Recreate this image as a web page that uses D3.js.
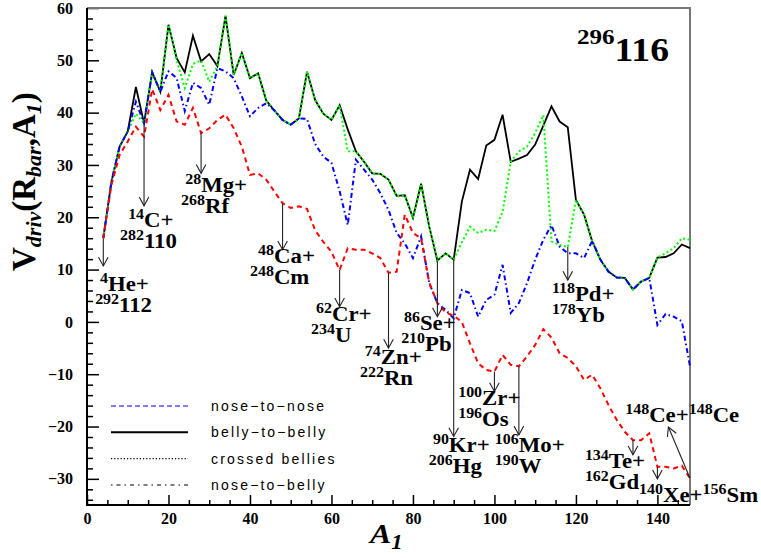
<!DOCTYPE html>
<html>
<head>
<meta charset="utf-8">
<script src="https://cdn.jsdelivr.net/npm/d3@7"></script>
<style>
  body { margin: 0; background: #fff; }
  svg { display: block; }
  .axis text { font-family: "Liberation Serif", serif; font-weight: bold; font-size: 16px; fill: #000; }
  .axis line { stroke: #000; stroke-width: 1.5px; }
  .axis path { display: none; }
  .ann text { font-family: "Liberation Serif", serif; font-weight: bold; fill: #000; }
  .ann line, .ann path { stroke: #222; stroke-width: 1.1px; fill: none; }
  .legend text { font-family: "Liberation Sans", sans-serif; font-size: 14px; letter-spacing: 2.2px; fill: #000; }
</style>
</head>
<body>
<script>
// fragment mass number A1 (x axis)
const massA = [4, 6, 8, 10, 12, 14, 16, 18, 20, 22, 24, 26, 28, 30, 32, 34, 36, 38, 40, 42,
  44, 46, 48, 50, 52, 54, 56, 58, 60, 62, 64, 66, 68, 70, 72, 74, 76, 78, 80, 82,
  84, 86, 88, 90, 92, 94, 96, 98, 100, 102, 104, 106, 108, 110, 112, 114, 116, 118, 120, 122,
  124, 126, 128, 130, 132, 134, 136, 138, 140, 142, 144, 146, 148];

// driving potential, MeV
const bellyToBelly = [16.0, 26.8, 33.5, 36.4, 44.9, 38.0, 47.7, 44.0, 56.8, 50.4, 47.7, 54.7, 49.8, 51.2, 48.9, 58.5, 47.2, 51.4, 46.6, 47.5,
  42.3, 40.4, 38.6, 37.7, 38.9, 47.8, 42.4, 39.8, 38.6, 41.4, 36.8, 32.6, 30.6, 28.4, 28.3, 27.2, 24.1, 24.2, 19.9, 26.4,
  18.2, 11.7, 13.1, 11.9, 23.0, 29.1, 27.3, 33.7, 34.8, 39.6, 30.6, 31.2, 31.9, 33.9, 37.5, 41.2, 38.3, 37.2, 23.3, 20.5,
  15.4, 11.9, 9.6, 8.5, 8.4, 6.2, 7.7, 8.4, 12.3, 12.4, 13.1, 14.8, 14.1];

const crossedBellies = [16.0, 26.8, 33.5, 36.4, 39.8, 38.0, 47.7, 44.0, 56.8, 50.0, 44.7, 49.3, 50.0, 45.9, 48.9, 58.5, 47.2, 51.4, 46.6, 47.5,
  42.3, 40.4, 38.6, 37.7, 38.9, 47.8, 42.4, 39.8, 38.6, 41.4, 32.6, 32.6, 30.6, 28.4, 28.3, 27.2, 24.1, 24.2, 19.9, 26.4,
  18.2, 11.7, 13.1, 11.9, 15.2, 18.2, 17.0, 17.6, 17.4, 21.0, 30.6, 32.6, 33.5, 36.1, 39.5, 15.4, 14.7, 14.3, 23.3, 20.5,
  15.4, 11.9, 9.6, 8.5, 8.4, 6.2, 7.7, 8.4, 12.3, 13.1, 14.1, 16.0, 15.7];

const noseToBelly = [16.0, 26.8, 33.5, 36.4, 42.1, 38.0, 47.7, 44.0, 47.9, 46.6, 40.3, 45.7, 44.7, 41.5, 48.5, 47.9, 46.6, 43.1, 39.3, 40.9,
  41.8, 40.4, 38.6, 37.7, 38.9, 38.8, 34.0, 31.6, 30.4, 25.0, 18.5, 31.0, 29.1, 27.2, 24.6, 21.4, 17.0, 15.0, 12.2, 16.3,
  7.4, 3.6, 2.3, 0.7, 6.1, 5.5, 1.0, 4.2, 5.2, 10.9, 1.7, 3.6, 7.4, 11.9, 15.7, 18.5, 14.4, 13.1, 13.1, 12.2,
  15.5, 11.9, 9.6, 8.5, 8.4, 6.2, 7.7, 8.4, -0.6, 1.5, 1.0, 0.1, -8.5];

const noseToNose = [16.0, 26.2, 31.9, 34.5, 37.3, 35.4, 44.5, 40.5, 43.4, 38.3, 37.7, 40.9, 36.1, 37.0, 38.6, 39.6, 37.0, 33.5, 28.1, 28.4,
  27.2, 24.9, 22.7, 21.8, 22.1, 21.6, 17.5, 15.3, 13.4, 9.9, 14.1, 13.8, 13.8, 13.1, 12.2, 9.4, 9.6, 20.5, 17.0, 16.0,
  7.5, 3.6, 1.8, 1.2, 0.0, -4.1, -7.9, -9.2, -9.5, -6.3, -8.2, -8.5, -6.6, -4.4, -1.4, -3.0, -6.0, -6.9, -8.5, -11.1,
  -10.1, -12.7, -15.9, -18.7, -21.0, -22.6, -22.6, -21.3, -27.7, -27.7, -28.0, -27.5, -29.9];

const legendNames = ["nose\u2212to\u2212nose", "belly\u2212to\u2212belly", "crossed bellies", "nose\u2212to\u2212belly"];

// decay channels marked with arrows: [superscript, symbol] pairs for both lines
const channelLine1 = [[["4", "He+"]], [["14", "C+"]], [["28", "Mg+"]], [["48", "Ca+"]], [["62", "Cr+"]], [["74", "Zn+"]],
  [["86", "Se+"]], [["90", "Kr+"]], [["100", "Zr+"]], [["106", "Mo+"]], [["118", "Pd+"]], [["134", "Te+"]],
  [["140", "Xe+"], ["156", "Sm"]], [["148", "Ce+"], ["148", "Ce"]]];
const channelLine2 = [[["292", "112"]], [["282", "110"]], [["268", "Rf"]], [["248", "Cm"]], [["234", "U"]], [["222", "Rn"]],
  [["210", "Pb"]], [["206", "Hg"]], [["196", "Os"]], [["190", "W"]], [["178", "Yb"]], [["162", "Gd"]], [], []];
const channelA = [4, 14, 28, 48, 62, 74, 86, 90, 100, 106, 118, 134, 140, 148];
const channelCurve = ["b", "b", "r", "r", "r", "r", "b", "b", "r", "r", "g", "r", "r", "r"];

// arrow tips and label anchors, in data units
const tipA = [4, 14, 28, 48, 62, 74, 86, 90, 100, 106, 118, 134, 140, 142.7];
const tipV = [10.7, 22.2, 28.4, 13.8, 2.9, -5.0, 1.0, -21.9, -13.3, -21.6, 8.0, -25.4, -30.0, -20.1];
const label1A = [3.2, 10.1, 24.1, 42.0, 56.2, 68.2, 77.8, 84.9, 91.1, 100.1, 114.1, 122.2, 135.5, 132.1];
const label2A = [2.0, 8.1, 23.1, 40.0, 55.0, 67.0, 77.1, 83.9, 91.1, 100.1, 114.1, 122.2, 0, 0];
const labelV = [5.9, 18.2, 24.9, 11.3, 0.1, -8.0, -1.5, -24.9, -15.9, -24.8, 3.9, -27.9, -34.4, -19.1];

const width = 761, height = 558;
const stretch = 1.14; // labels in the picture are a little wider than tall

const x = d3.scaleLinear().domain([0, 148]).range([87, 690]);
const y = d3.scaleLinear().domain([-35, 60]).range([505, 8]);

const svg = d3.select('body').append('svg')
  .attr('width', width)
  .attr('height', height);

// ---- axes ----
const yMajor = d3.range(-30, 61, 10);
const yMinor = d3.range(-34, 60, 2).filter(v => v % 10 !== 0);
const xMajor = d3.range(0, 141, 20);
const xMinor = d3.range(5, 148, 5).filter(v => v % 20 !== 0);

svg.append('g').attr('class', 'axis')
  .attr('transform', `translate(${x(0)},0)`)
  .call(d3.axisLeft(y).tickValues(yMajor).tickSizeInner(-12).tickSizeOuter(0).tickPadding(14).tickFormat(d3.format('d')));
svg.append('g').attr('class', 'axis')
  .attr('transform', `translate(${x(0)},0)`)
  .call(d3.axisLeft(y).tickValues(yMinor).tickSizeInner(-6).tickSizeOuter(0).tickFormat(''));
svg.append('g').attr('class', 'axis')
  .attr('transform', `translate(0,${y(-35)})`)
  .call(d3.axisBottom(x).tickValues(xMajor).tickSizeInner(-10).tickSizeOuter(0).tickPadding(8).tickFormat(d3.format('d')));
svg.append('g').attr('class', 'axis')
  .attr('transform', `translate(0,${y(-35)})`)
  .call(d3.axisBottom(x).tickValues(xMinor).tickSizeInner(-5).tickSizeOuter(0).tickFormat(''));

// frame
svg.append('path')
  .attr('d', `M${x(0)},${y(60)}H${x(148)}V${y(-35)}`)
  .attr('fill', 'none').attr('stroke', '#777').attr('stroke-width', 2);
svg.append('path')
  .attr('d', `M${x(0)},${y(60)}V${y(-35)}H${x(148)}`)
  .attr('fill', 'none').attr('stroke', '#000').attr('stroke-width', 2);

// ---- curves ----
const line = d3.line().x((d, i) => x(massA[i])).y(d => y(d));

const curves = [
  { data: bellyToBelly, color: '#000', dash: null, w: 1.8 },
  { data: crossedBellies, color: '#00ff00', dash: '2,2.5', w: 2 },
  { data: noseToBelly, color: '#0000ff', dash: '5,3,1.5,3', w: 2 },
  { data: noseToNose, color: '#ff0000', dash: '5,4', w: 2 }
];

svg.append('g').selectAll('path')
  .data(curves)
  .join('path')
  .attr('d', c => line(c.data))
  .attr('fill', 'none')
  .attr('stroke', c => c.color)
  .attr('stroke-width', c => c.w)
  .attr('stroke-dasharray', c => c.dash);

// ---- annotations ----
const seriesByKey = { b: bellyToBelly, g: crossedBellies, r: noseToNose };
const ann = svg.append('g').attr('class', 'ann');

function arrow(x1, y1, x2, y2) {
  ann.append('line').attr('x1', x1).attr('y1', y1).attr('x2', x2).attr('y2', y2);
  const ang = Math.atan2(y2 - y1, x2 - x1), len = 10, spread = 0.5;
  const p1 = [x2 - len * Math.cos(ang - spread), y2 - len * Math.sin(ang - spread)];
  const p2 = [x2 - len * Math.cos(ang + spread), y2 - len * Math.sin(ang + spread)];
  ann.append('path').attr('d', `M${p1}L${x2},${y2}L${p2}`);
}

function isotopeText(px, py, parts) {
  const t = ann.append('text').attr('transform', `translate(${px},${py}) scale(${stretch},1)`);
  parts.forEach(([sup, main]) => {
    t.append('tspan').attr('font-size', 14).attr('dy', -8).text(sup);
    t.append('tspan').attr('font-size', 20).attr('dy', 8).text(main);
  });
}

channelA.forEach((a, i) => {
  const v0 = seriesByKey[channelCurve[i]][massA.indexOf(a)];
  arrow(x(a), y(v0), x(tipA[i]), y(tipV[i]));
  isotopeText(x(label1A[i]), y(labelV[i]), channelLine1[i]);
  if (channelLine2[i].length) isotopeText(x(label2A[i]), y(labelV[i]) + 21, channelLine2[i]);
});

// nucleus label
const nuc = svg.append('text')
  .attr('transform', `translate(577,61) scale(${stretch},1)`)
  .style('font-family', '"Liberation Serif", serif').style('font-weight', 'bold');
nuc.append('tspan').attr('font-size', 22).attr('dy', -17).text('296');
nuc.append('tspan').attr('font-size', 33).attr('dy', 17).text('116');

// ---- axis titles ----
const yt = svg.append('text')
  .attr('transform', 'translate(35,271) rotate(-90)')
  .style('font-family', '"Liberation Serif", serif').style('font-weight', 'bold');
yt.append('tspan').attr('font-size', 33).text('V');
yt.append('tspan').attr('font-size', 22).attr('font-style', 'italic').attr('dy', 6).text('driv');
yt.append('tspan').attr('font-size', 33).attr('dy', -6).text('(R');
yt.append('tspan').attr('font-size', 22).attr('font-style', 'italic').attr('dy', 6).text('bar');
yt.append('tspan').attr('font-size', 33).attr('dy', -6).text(',A');
yt.append('tspan').attr('font-size', 22).attr('font-style', 'italic').attr('dy', 6).text('1');
yt.append('tspan').attr('font-size', 33).attr('dy', -6).text(')');

const xt = svg.append('text')
  .attr('transform', `translate(370,543) scale(${stretch},1)`)
  .style('font-family', '"Liberation Serif", serif').style('font-weight', 'bold').style('font-style', 'italic');
xt.append('tspan').attr('font-size', 28).text('A');
xt.append('tspan').attr('font-size', 20).attr('dy', 6).text('1');

// ---- legend ----
const legendStyles = [
  { color: '#0000ff', dash: '5,3', w: 1.2 },
  { color: '#000', dash: null, w: 2 },
  { color: '#000', dash: '1.2,2', w: 1.2 },
  { color: '#000', dash: '1.5,4,4,4', w: 1.2 }
];
const legendY = d3.scalePoint().domain(legendNames).range([406, 485]);
const leg = svg.append('g').attr('class', 'legend');
legendNames.forEach((name, i) => {
  const s = legendStyles[i];
  leg.append('line')
    .attr('x1', 111).attr('x2', 188)
    .attr('y1', legendY(name)).attr('y2', legendY(name))
    .attr('stroke', s.color).attr('stroke-width', s.w)
    .attr('stroke-dasharray', s.dash);
  leg.append('text').attr('x', 211).attr('y', legendY(name) + 5).text(name);
});
</script>
</body>
</html>
